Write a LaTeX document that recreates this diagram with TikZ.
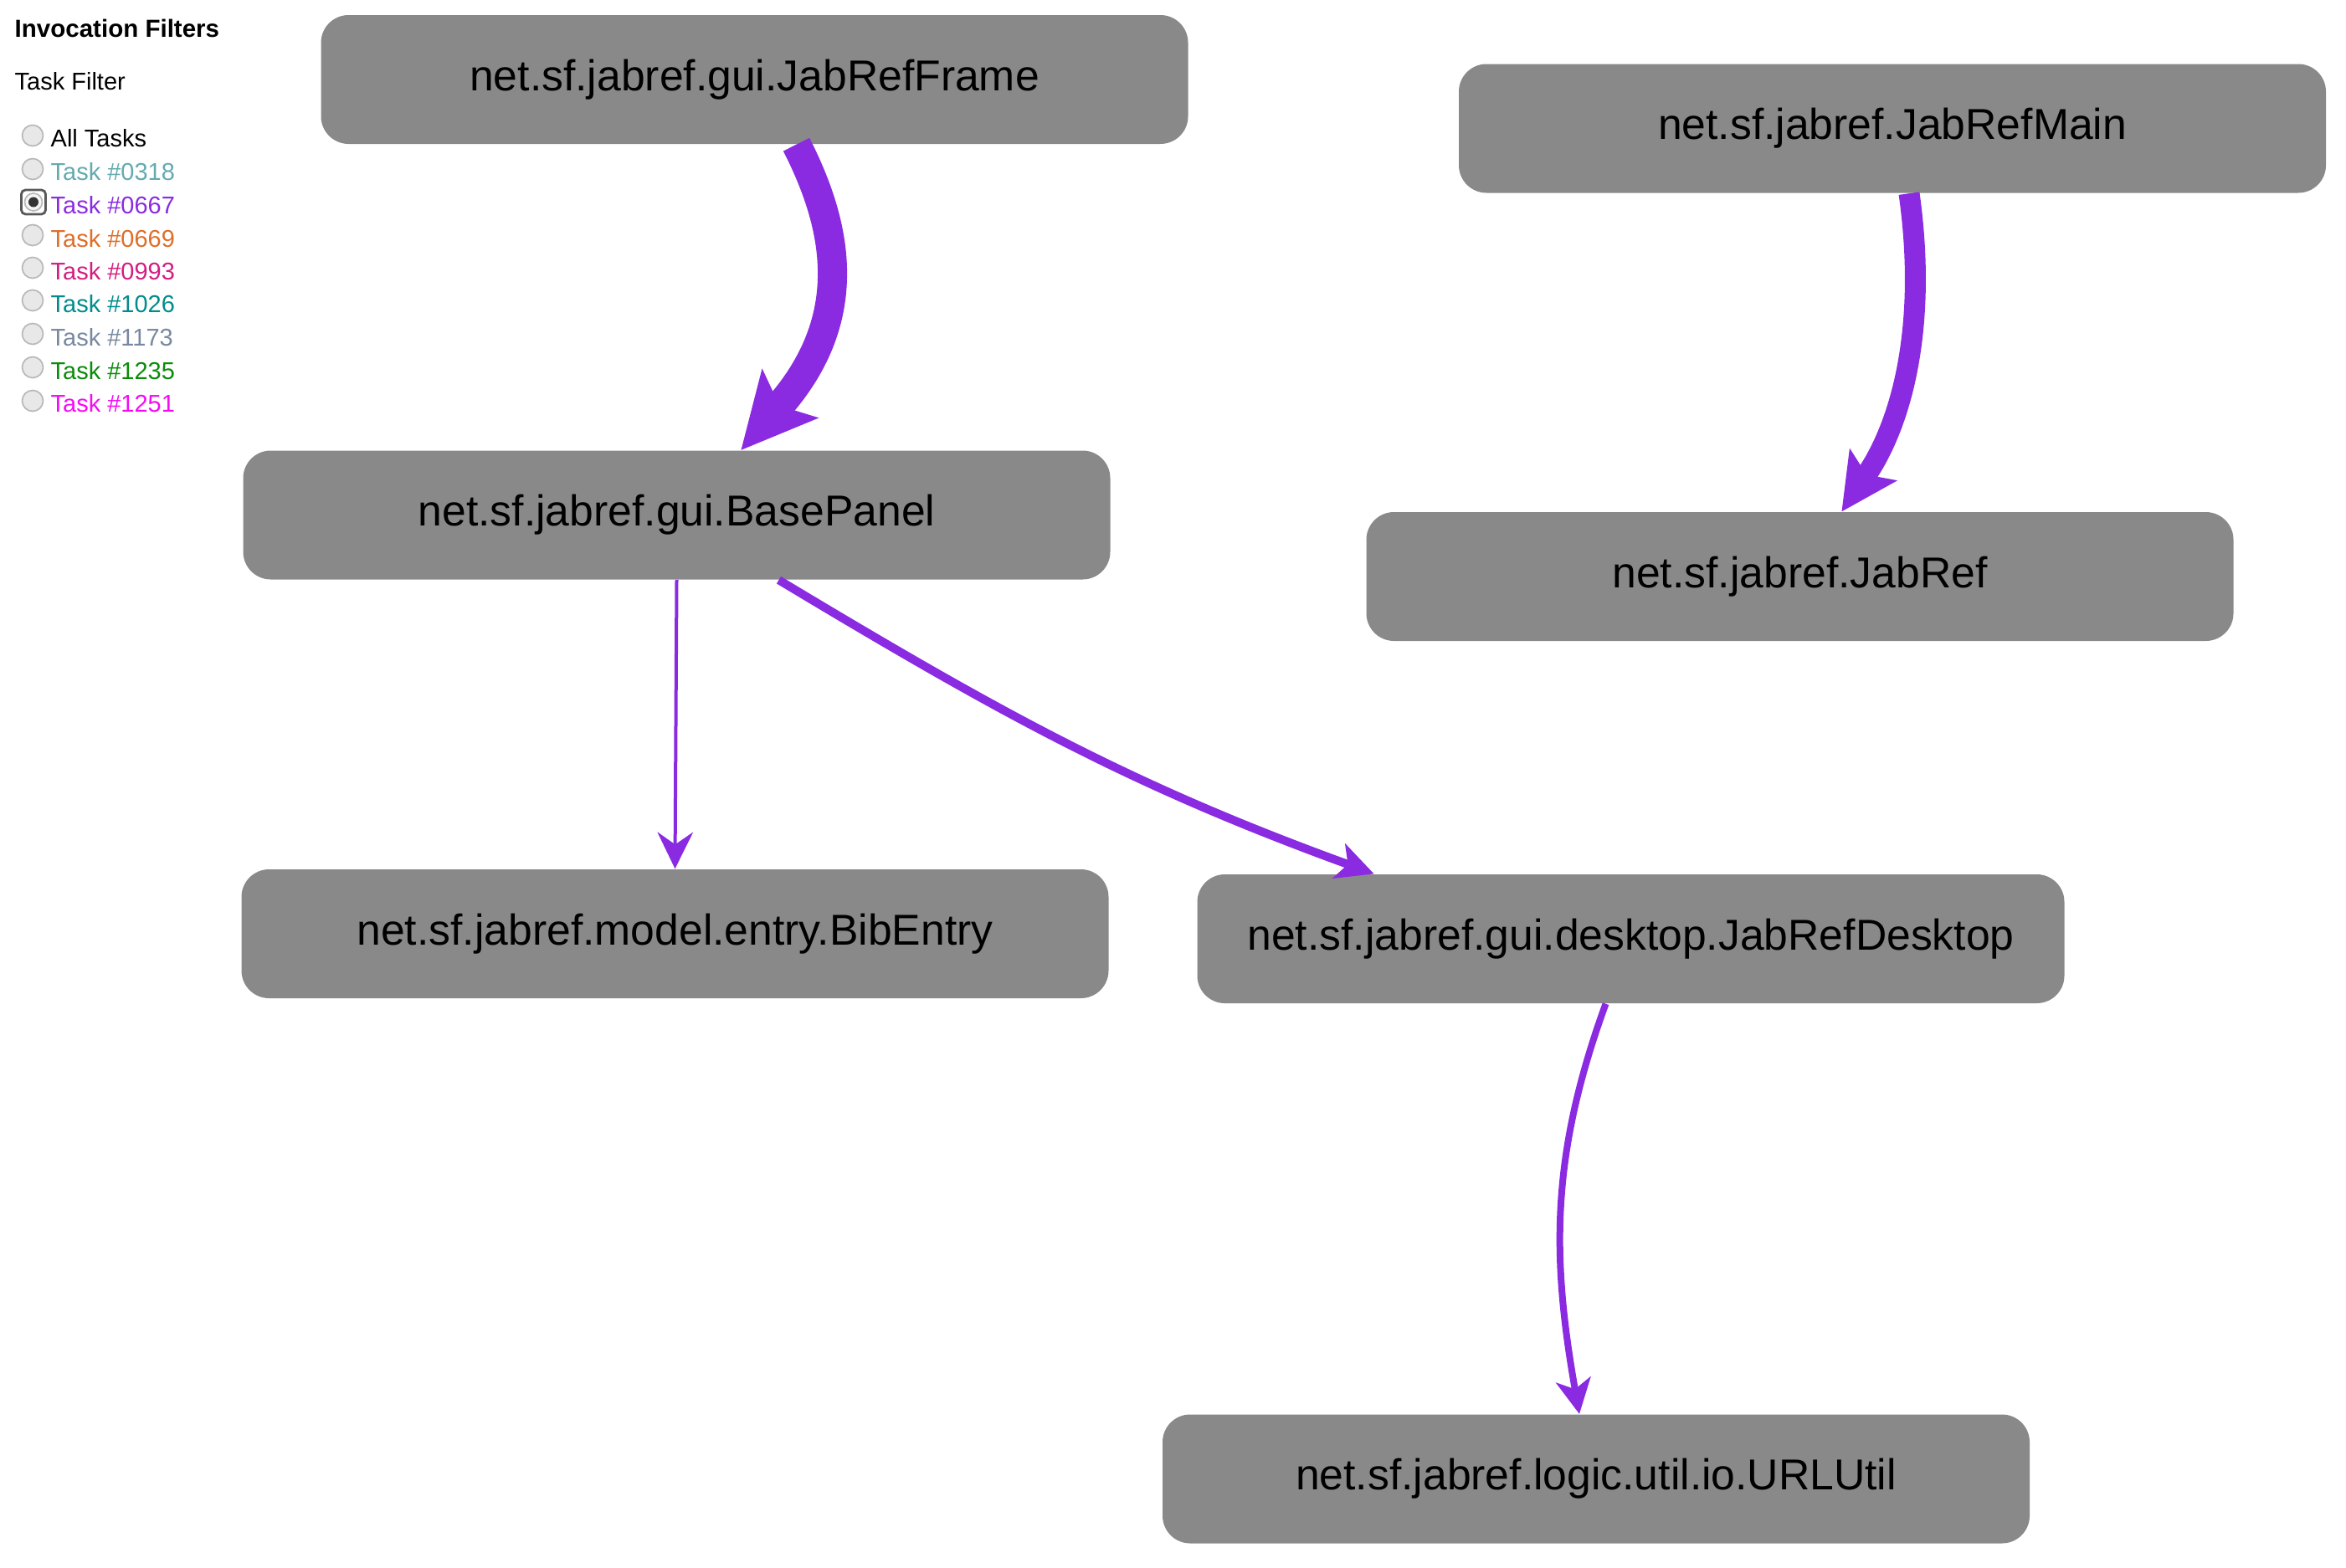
\documentclass[tikz,border=0pt]{standalone}
\usepackage{fontspec}
\setmainfont{Liberation Sans}
\usetikzlibrary{arrows.meta}

\definecolor{boxgray}{RGB}{137,137,137}
\definecolor{callpurple}{RGB}{138,43,226}
\definecolor{tasktealA}{RGB}{100,170,175}
\definecolor{taskorange}{RGB}{222,110,40}
\definecolor{taskpink}{RGB}{210,30,130}
\definecolor{tasktealB}{RGB}{0,140,140}
\definecolor{taskslate}{RGB}{120,136,160}
\definecolor{taskgreen}{RGB}{10,140,10}
\definecolor{taskmagenta}{RGB}{245,10,245}

\begin{document}
\begin{tikzpicture}[>=Stealth,
    box/.style={rectangle, rounded corners=3.3mm, fill=boxgray, minimum width=10.36cm,
        minimum height=1.54cm, inner sep=0pt, font=\fontsize{14.7}{17}\selectfont},
    call/.style={draw=callpurple},
    radio/.style={circle, draw=gray!55, fill=gray!18, line width=0.5pt, minimum size=2.5mm, inner sep=0pt},
    tasklabel/.style={anchor=base west, inner sep=0pt, font=\fontsize{8.25}{10}\selectfont}]
    \useasboundingbox (0,0) rectangle (28.03,-18.73);
    % 筛选栏
    \node[tasklabel, font=\fontsize{8.4}{10}\selectfont\bfseries] (title) at (0.17,-0.44) {Invocation Filters};
    \node[tasklabel] (filter) at (0.17,-1.07) {Task Filter};
    \node[radio] (r0) at (0.39,-1.62) {};
    \node[tasklabel] (t0) at (0.60,-1.75) {All Tasks};
    \node[radio] (r1) at (0.39,-2.02) {};
    \node[tasklabel, text=tasktealA] (t1) at (0.60,-2.15) {Task \#0318};
    \node[draw=gray!70!black, line width=0.8pt, rounded corners=0.5mm, minimum size=2.9mm, inner sep=0pt] (sel) at (0.40,-2.415) {};
    \node[radio, fill=gray!8, minimum size=2.1mm] (r2) at (sel) {};
    \node[circle, fill=gray!40!black, minimum size=1.2mm, inner sep=0pt] (dot) at (sel) {};
    \node[tasklabel, text=callpurple] (t2) at (0.60,-2.55) {Task \#0667};
    \node[radio] (r3) at (0.39,-2.81) {};
    \node[tasklabel, text=taskorange] (t3) at (0.60,-2.95) {Task \#0669};
    \node[radio] (r4) at (0.39,-3.20) {};
    \node[tasklabel, text=taskpink] (t4) at (0.60,-3.34) {Task \#0993};
    \node[radio] (r5) at (0.39,-3.59) {};
    \node[tasklabel, text=tasktealB] (t5) at (0.60,-3.73) {Task \#1026};
    \node[radio] (r6) at (0.39,-3.99) {};
    \node[tasklabel, text=taskslate] (t6) at (0.60,-4.13) {Task \#1173};
    \node[radio] (r7) at (0.39,-4.39) {};
    \node[tasklabel, text=taskgreen] (t7) at (0.60,-4.53) {Task \#1235};
    \node[radio] (r8) at (0.39,-4.79) {};
    \node[tasklabel, text=taskmagenta] (t8) at (0.60,-4.92) {Task \#1251};
    % 节点
    \node[box] (A) at (9.015,-0.95) {net.sf.jabref.gui.JabRefFrame};
    \node[box] (B) at (22.61,-1.535) {net.sf.jabref.JabRefMain};
    \node[box] (C) at (8.085,-6.155) {net.sf.jabref.gui.BasePanel};
    \node[box] (D) at (21.505,-6.89) {net.sf.jabref.JabRef};
    \node[box] (E) at (8.065,-11.16) {net.sf.jabref.model.entry.BibEntry};
    \node[box] (F) at (19.485,-11.22) {net.sf.jabref.gui.desktop.JabRefDesktop};
    \node[box] (G) at (19.07,-17.675) {net.sf.jabref.logic.util.io.URLUtil};
    % 箭头，粗细按调用次数
    \draw[call, line width=3.5mm, -{Stealth[length=9mm, width=9mm, inset=2mm, line width=0pt]}]
        ([xshift=5mm]A.south) to[out=-63, in=49, out looseness=0.75, in looseness=1.45] ([xshift=7.7mm]C.north);
    \draw[call, line width=2.5mm, -{Stealth[length=6.8mm, width=6.9mm, inset=1.5mm, line width=0pt]}]
        ([xshift=2mm]B.south) to[out=-82, in=56, out looseness=1.05, in looseness=0.85] ([xshift=5mm]D.north);
    \draw[call, line width=0.4mm, -{Stealth[length=4.4mm, width=4.3mm, inset=1.5mm, line width=0pt]}]
        (C.south) -- (E.north);
    \draw[call, line width=1mm, -{Stealth[length=4.5mm, width=4.5mm, inset=1.2mm, line width=0pt]}]
        ([xshift=12.2mm]C.south) to[out=-31, in=160] ([xshift=-30.7mm]F.north);
    \draw[call, line width=0.8mm, -{Stealth[length=4.2mm, width=4.3mm, inset=1.2mm, line width=0pt]}]
        ([xshift=-3mm]F.south) to[out=-110, in=100] ([xshift=-2mm]G.north);
\end{tikzpicture}
\end{document}
